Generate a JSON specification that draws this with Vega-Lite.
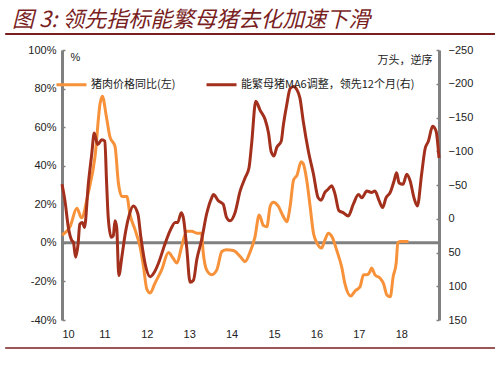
{
  "$schema": "https://vega.github.io/schema/vega-lite/v6.json",
  "autosize": "none",
  "width": 377,
  "height": 270,
  "padding": {"left": 62, "top": 50, "right": 61, "bottom": 62},
  "background": "white",
  "config": {
    "view": {"stroke": null},
    "font": "Liberation Sans",
    "axis": {"labelFont": "Liberation Sans", "labelFontSize": 11, "labelColor": "#222", "grid": false, "labelOverlap": false}
  },
  "title": {
    "text": "图 3:     领先指标能繁母猪去化加速下滑",
    "font": "Noto Sans CJK SC",
    "fontSize": 22,
    "fontStyle": "italic",
    "fontWeight": "normal",
    "color": "#7a1f1f",
    "anchor": "start",
    "frame": "group",
    "dx": -50,
    "offset": 1
  },
  "datasets": {
    "pork": [
      {"t": 2010.0, "v": 4}, {"t": 2010.19, "v": 8.4}, {"t": 2010.35, "v": 18}, {"t": 2010.46, "v": 13},
      {"t": 2010.62, "v": 26}, {"t": 2010.78, "v": 45}, {"t": 2010.9, "v": 72.5}, {"t": 2010.95, "v": 76},
      {"t": 2011.05, "v": 65}, {"t": 2011.13, "v": 55}, {"t": 2011.25, "v": 50}, {"t": 2011.33, "v": 31},
      {"t": 2011.41, "v": 24}, {"t": 2011.53, "v": 24}, {"t": 2011.6, "v": 15}, {"t": 2011.72, "v": 7},
      {"t": 2011.84, "v": -2}, {"t": 2011.92, "v": -12}, {"t": 2012.0, "v": -24}, {"t": 2012.08, "v": -26},
      {"t": 2012.19, "v": -21}, {"t": 2012.35, "v": -14}, {"t": 2012.51, "v": -5}, {"t": 2012.62, "v": -8},
      {"t": 2012.71, "v": -10.5}, {"t": 2012.82, "v": -2}, {"t": 2012.94, "v": 6}, {"t": 2013.06, "v": 6},
      {"t": 2013.18, "v": 5}, {"t": 2013.29, "v": 5}, {"t": 2013.33, "v": -5}, {"t": 2013.41, "v": -14},
      {"t": 2013.53, "v": -16.5}, {"t": 2013.65, "v": -14}, {"t": 2013.77, "v": -4.5}, {"t": 2013.88, "v": -3.6},
      {"t": 2014.04, "v": -4}, {"t": 2014.2, "v": -7}, {"t": 2014.32, "v": -9.7}, {"t": 2014.43, "v": -5},
      {"t": 2014.55, "v": 3}, {"t": 2014.65, "v": 14.5}, {"t": 2014.75, "v": 9}, {"t": 2014.83, "v": 8.4},
      {"t": 2014.91, "v": 19}, {"t": 2014.98, "v": 21}, {"t": 2015.1, "v": 19}, {"t": 2015.22, "v": 13.6},
      {"t": 2015.3, "v": 11}, {"t": 2015.38, "v": 19}, {"t": 2015.46, "v": 32.6}, {"t": 2015.54, "v": 35},
      {"t": 2015.64, "v": 42}, {"t": 2015.69, "v": 41}, {"t": 2015.77, "v": 32.6}, {"t": 2015.85, "v": 19},
      {"t": 2015.93, "v": 5}, {"t": 2016.01, "v": 0}, {"t": 2016.12, "v": -2.7}, {"t": 2016.2, "v": 1.5},
      {"t": 2016.28, "v": 5}, {"t": 2016.37, "v": 3}, {"t": 2016.48, "v": -4}, {"t": 2016.6, "v": -13},
      {"t": 2016.67, "v": -21}, {"t": 2016.81, "v": -27.5}, {"t": 2016.91, "v": -25}, {"t": 2017.03, "v": -22.6},
      {"t": 2017.11, "v": -16.6}, {"t": 2017.19, "v": -16.6}, {"t": 2017.26, "v": -15}, {"t": 2017.3, "v": -13},
      {"t": 2017.38, "v": -16.6}, {"t": 2017.5, "v": -18.3}, {"t": 2017.58, "v": -21}, {"t": 2017.66, "v": -27},
      {"t": 2017.74, "v": -28}, {"t": 2017.81, "v": -17.5}, {"t": 2017.88, "v": -10.5}, {"t": 2017.92, "v": 0},
      {"t": 2017.97, "v": 0.7}, {"t": 2018.17, "v": 0.7}
    ],
    "sows": [
      {"t": 2010.0, "r": -51}, {"t": 2010.07, "r": -26.5}, {"t": 2010.15, "r": 12.8}, {"t": 2010.23, "r": 32},
      {"t": 2010.27, "r": 35}, {"t": 2010.32, "r": 57}, {"t": 2010.38, "r": 37}, {"t": 2010.42, "r": 8},
      {"t": 2010.48, "r": 5.4}, {"t": 2010.53, "r": 12.8}, {"t": 2010.62, "r": -51}, {"t": 2010.7, "r": -95},
      {"t": 2010.76, "r": -127}, {"t": 2010.84, "r": -110}, {"t": 2010.94, "r": -117}, {"t": 2011.01, "r": -115},
      {"t": 2011.05, "r": -56}, {"t": 2011.09, "r": -2}, {"t": 2011.16, "r": 27.5}, {"t": 2011.21, "r": 25},
      {"t": 2011.25, "r": 3}, {"t": 2011.29, "r": 13}, {"t": 2011.34, "r": 84}, {"t": 2011.41, "r": 57},
      {"t": 2011.49, "r": 22.5}, {"t": 2011.58, "r": -4.4}, {"t": 2011.68, "r": -19}, {"t": 2011.79, "r": -7},
      {"t": 2011.86, "r": 27.5}, {"t": 2011.96, "r": 66.7}, {"t": 2012.08, "r": 86}, {"t": 2012.18, "r": 79},
      {"t": 2012.27, "r": 66.7}, {"t": 2012.43, "r": 37}, {"t": 2012.55, "r": 17.7}, {"t": 2012.67, "r": 5.4},
      {"t": 2012.73, "r": 5.4}, {"t": 2012.81, "r": -9}, {"t": 2012.86, "r": -2}, {"t": 2012.94, "r": 42},
      {"t": 2013.02, "r": 94}, {"t": 2013.1, "r": 91}, {"t": 2013.18, "r": 60}, {"t": 2013.29, "r": 32},
      {"t": 2013.41, "r": -7}, {"t": 2013.53, "r": -31}, {"t": 2013.57, "r": -36}, {"t": 2013.69, "r": -26.5},
      {"t": 2013.8, "r": -21.6}, {"t": 2013.88, "r": -2}, {"t": 2013.96, "r": 3}, {"t": 2014.08, "r": -9},
      {"t": 2014.2, "r": -41}, {"t": 2014.32, "r": -61}, {"t": 2014.41, "r": -75.5}, {"t": 2014.47, "r": -110},
      {"t": 2014.57, "r": -174}, {"t": 2014.67, "r": -161}, {"t": 2014.79, "r": -147}, {"t": 2014.87, "r": -127},
      {"t": 2014.93, "r": -100}, {"t": 2015.0, "r": -93}, {"t": 2015.06, "r": -105}, {"t": 2015.17, "r": -115},
      {"t": 2015.22, "r": -139}, {"t": 2015.3, "r": -169}, {"t": 2015.38, "r": -193}, {"t": 2015.46, "r": -196},
      {"t": 2015.54, "r": -191}, {"t": 2015.61, "r": -179}, {"t": 2015.69, "r": -144}, {"t": 2015.81, "r": -100},
      {"t": 2015.93, "r": -66}, {"t": 2016.04, "r": -31}, {"t": 2016.11, "r": -27.5}, {"t": 2016.2, "r": -39},
      {"t": 2016.28, "r": -44}, {"t": 2016.36, "r": -49}, {"t": 2016.44, "r": -36}, {"t": 2016.53, "r": -12},
      {"t": 2016.63, "r": -9}, {"t": 2016.75, "r": -4}, {"t": 2016.87, "r": -21.6}, {"t": 2016.99, "r": -36},
      {"t": 2017.07, "r": -31}, {"t": 2017.19, "r": -41}, {"t": 2017.3, "r": -39}, {"t": 2017.38, "r": -41},
      {"t": 2017.48, "r": -26.5}, {"t": 2017.56, "r": -16.6}, {"t": 2017.64, "r": -31}, {"t": 2017.74, "r": -39},
      {"t": 2017.83, "r": -56}, {"t": 2017.89, "r": -68}, {"t": 2017.95, "r": -53}, {"t": 2018.04, "r": -51},
      {"t": 2018.13, "r": -66}, {"t": 2018.21, "r": -56}, {"t": 2018.3, "r": -31}, {"t": 2018.38, "r": -19},
      {"t": 2018.48, "r": -66}, {"t": 2018.56, "r": -103}, {"t": 2018.64, "r": -115}, {"t": 2018.74, "r": -137},
      {"t": 2018.82, "r": -130}, {"t": 2018.89, "r": -90}
    ]
  },
  "layer": [
    {
      "encoding": {
        "y": {
          "field": "v", "type": "quantitative",
          "scale": {"domain": [-40, 100], "nice": false},
          "axis": {
            "values": [-40, -20, 0, 20, 40, 60, 80, 100],
            "labelExpr": "datum.value + '%'",
            "labelOverlap": false,
            "domainColor": "#808080", "domainWidth": 3,
            "tickColor": "#808080", "tickSize": -3, "tickWidth": 1.5,
            "labelPadding": 9,
            "title": "%", "titleAngle": 0, "titleX": 8, "titleY": 7,
            "titleAlign": "left", "titleBaseline": "middle",
            "titleFont": "Liberation Sans", "titleFontSize": 11, "titleFontWeight": "normal", "titleColor": "#222"
          }
        }
      },
      "layer": [
        {
          "data": {"values": [{"v": 108.3, "t": 2008.66, "t2": 2020.21, "w": 2}, {"v": -54.5, "t": 2008.66, "t2": 2020.21, "w": 1.5}]},
          "mark": {"type": "rule", "color": "#7a1f1f", "clip": false},
          "encoding": {
            "x": {"field": "t", "type": "quantitative"},
            "x2": {"field": "t2"},
            "strokeWidth": {"field": "w", "type": "quantitative", "scale": null}
          }
        },
        {
          "data": {"values": [{"v": 0}]},
          "mark": {"type": "rule", "color": "#808080", "strokeWidth": 3},
          "encoding": {}
        },
        {
          "data": {"name": "pork"},
          "transform": [{"calculate": "'猪肉价格同比(左)'", "as": "s"}],
          "mark": {"type": "line", "strokeWidth": 3, "interpolate": "monotone"},
          "encoding": {
            "x": {
              "field": "t", "type": "quantitative",
              "scale": {"domain": [2010, 2018.89], "nice": false, "zero": false},
              "axis": {
                "values": [2010, 2011, 2012, 2013, 2014, 2015, 2016, 2017, 2018],
                "labelExpr": "datum.value - 2000",
                "domain": false, "ticks": false, "labelPadding": 8, "title": null
              }
            },
            "color": {
              "field": "s", "type": "nominal",
              "scale": {"domain": ["猪肉价格同比(左)", "能繁母猪MA6调整，领先12个月(右)"], "range": ["#f7923a", "#a3301c"]},
              "legend": {
                "orient": "none", "legendX": -7, "legendY": 18, "direction": "horizontal",
                "title": null, "symbolType": "stroke", "symbolSize": 900, "symbolStrokeWidth": 3,
                "labelFont": "Noto Sans CJK SC", "labelFontSize": 11, "labelColor": "#222",
                "labelOffset": 3, "columnPadding": 24, "labelLimit": 400
              }
            }
          }
        }
      ]
    },
    {
      "data": {"name": "sows"},
      "transform": [{"calculate": "'能繁母猪MA6调整，领先12个月(右)'", "as": "s"}],
      "mark": {"type": "line", "strokeWidth": 3, "interpolate": "monotone"},
      "encoding": {
        "x": {"field": "t", "type": "quantitative"},
        "y": {
          "field": "r", "type": "quantitative",
          "scale": {"domain": [-250, 150], "reverse": true, "nice": false},
          "axis": {
            "orient": "right",
            "values": [-250, -200, -150, -100, -50, 0, 50, 100, 150],
            "domainColor": "#808080", "domainWidth": 3,
            "tickColor": "#808080", "tickSize": -3, "tickWidth": 1.5,
            "labelPadding": 12,
            "title": "万头，逆序", "titleAngle": 0, "titleX": -7, "titleY": 10,
            "titleAlign": "right", "titleBaseline": "middle",
            "titleFont": "Noto Sans CJK SC", "titleFontSize": 11, "titleFontWeight": "normal", "titleColor": "#222"
          }
        },
        "color": {"field": "s", "type": "nominal"}
      }
    }
  ],
  "resolve": {"scale": {"y": "independent"}}
}
